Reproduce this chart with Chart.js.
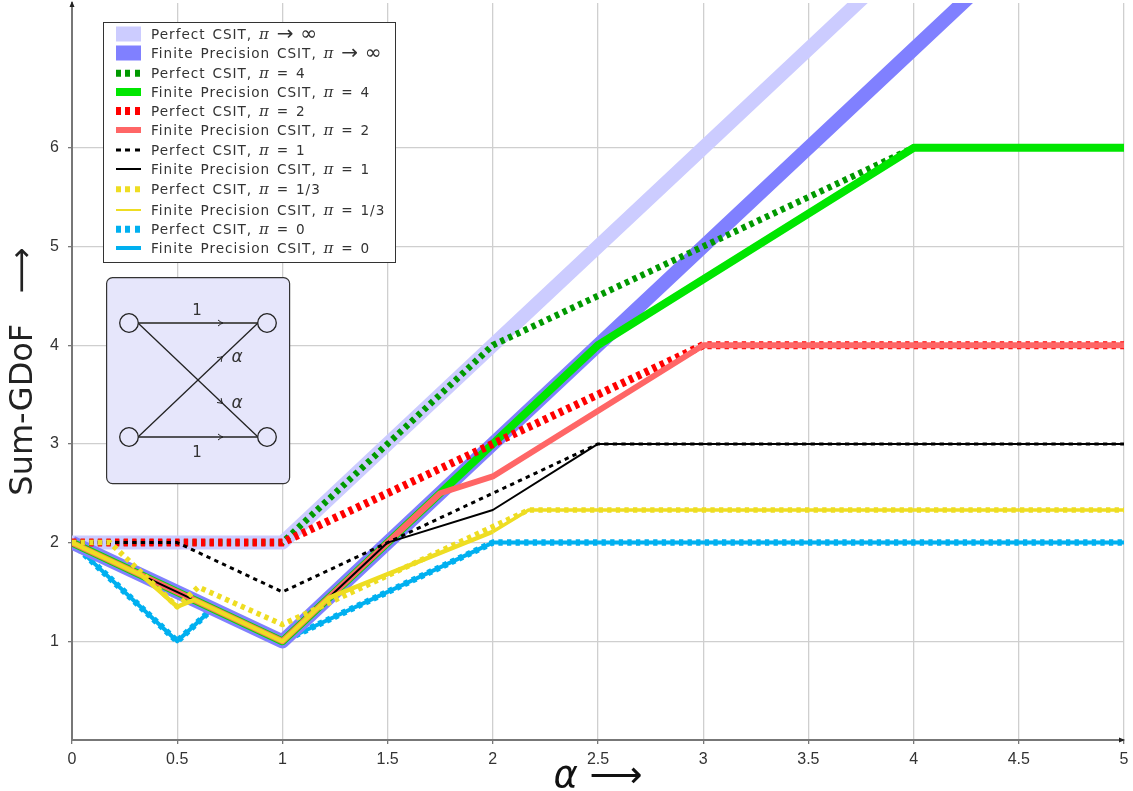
<!DOCTYPE html>
<html><head><meta charset="utf-8">
<script src="https://cdn.jsdelivr.net/npm/chart.js@4"></script>
<style>
html,body{margin:0;padding:0;background:#fff;overflow:hidden}
#wrap{position:relative;width:1133px;height:791px}
canvas{display:block}
#legend{position:absolute;left:103px;top:22px;width:291px;height:239px;border:1.3px solid #333;background:#fff;font-family:"DejaVu Sans",sans-serif;font-size:13.6px;letter-spacing:1px;word-spacing:1.5px;color:#333}
.row{position:absolute;left:0;right:0;height:19px;line-height:19px;white-space:nowrap}
.sw{position:absolute;left:12px;width:25px;top:50%;transform:translateY(-50%)}
.tx{position:absolute;left:47px;top:0}
.tx i{font-family:"DejaVu Serif","Liberation Serif",serif;font-size:15px;line-height:10px}
.tx b{font-weight:normal;font-size:20px;line-height:10px;letter-spacing:0;vertical-align:-1px}
#inset{position:absolute;left:106px;top:277px}
</style></head><body>
<div id="wrap">
<canvas id="c" width="1133" height="791"></canvas>
<div id="legend"></div>
<svg id="inset" width="185" height="208" viewBox="106 277 185 208">
<defs><path id="h" d="M-4,-3 Q-1,-0.5 1,0 Q-1,0.5 -4,3" fill="none" stroke="#222" stroke-width="1"/></defs>
<rect x="106.6" y="277.6" width="183" height="206" rx="6" fill="#e6e6fb" stroke="#333" stroke-width="1.2"/>
<g stroke="#222" stroke-width="1.3" fill="none">
<line x1="129" y1="323" x2="267" y2="323" stroke="#555" stroke-width="1.8"/>
<line x1="129" y1="437" x2="267" y2="437"/>
<line x1="138" y1="323" x2="258" y2="437"/>
<line x1="138" y1="437" x2="258" y2="323"/>
<circle cx="129" cy="323" r="9.3" fill="#e6e6fb"/><circle cx="267" cy="323" r="9.3" fill="#e6e6fb"/>
<circle cx="129" cy="437" r="9.3" fill="#e6e6fb"/><circle cx="267" cy="437" r="9.3" fill="#e6e6fb"/>
</g>
<use href="#h" transform="translate(222,323)"/><use href="#h" transform="translate(222,437)"/>
<use href="#h" transform="translate(222,357) rotate(-43.5)"/><use href="#h" transform="translate(222,403) rotate(43.5)"/>
<g font-family="DejaVu Sans,sans-serif" font-size="15" fill="#333" text-anchor="middle">
<text x="197" y="315">1</text><text x="197" y="457">1</text>
<text x="237" y="362" font-size="17" font-style="italic">α</text>
<text x="237" y="408" font-size="17" font-style="italic">α</text>
</g>
</svg>
</div>
<script>
// Axis content
const xTickValues = [0,0.5,1,1.5,2,2.5,3,3.5,4,4.5,5];
const xTickLabels = ['0','0.5','1','1.5','2','2.5','3','3.5','4','4.5','5'];
const yTickValues = [1,2,3,4,5,6];
const xTitle = 'α ⟶';
const yTitle = 'Sum-GDoF   ⟶';

// Series values: [alpha, sum-GDoF]
const perfectInf   = [[0,2],[1,2],[2,4],[3,6],[4,8]];
const finiteInf    = [[0,2],[1,1],[2,3],[3,5],[4,7],[5,9]];
const perfect4     = [[0,2],[1,2],[2,4],[4,6],[5,6]];
const finite4      = [[0,2],[1,1],[2.5,4],[4,6],[5,6]];
const perfect2     = [[0,2],[1,2],[3,4],[5,4]];
const finite2      = [[0,2],[1,1],[1.75,2.5],[2,2.67],[3,4],[5,4]];
const perfect1     = [[0,2],[0.5,2],[1,1.5],[2.5,3],[5,3]];
const finite1      = [[0,2],[1,1],[1.5,2],[2,2.33],[2.5,3],[5,3]];
const perfectThird = [[0,2],[0.18,2],[0.5,1.35],[0.6,1.55],[1,1.17],[2.17,2.33],[5,2.33]];
const finiteThird  = [[0,2],[0.33,1.67],[0.5,1.35],[0.58,1.42],[1,1],[1.22,1.44],[2,2.11],[2.17,2.33],[5,2.33]];
const perfectZero  = [[0,2],[0.5,1],[0.667,1.33],[1,1],[2,2],[5,2]];
const finiteZero   = [[0,2],[0.5,1],[0.667,1.33],[1,1],[2,2],[5,2]];

// Legend labels
const labels = ['Perfect CSIT, π → ∞','Finite Precision CSIT, π → ∞','Perfect CSIT, π = 4','Finite Precision CSIT, π = 4','Perfect CSIT, π = 2','Finite Precision CSIT, π = 2','Perfect CSIT, π = 1','Finite Precision CSIT, π = 1','Perfect CSIT, π = 1/3','Finite Precision CSIT, π = 1/3','Perfect CSIT, π = 0','Finite Precision CSIT, π = 0'];
const seriesList = [perfectInf,finiteInf,perfect4,finite4,perfect2,finite2,perfect1,finite1,perfectThird,finiteThird,perfectZero,finiteZero];

// Styles, one per series: colour, width, dashed, draw order (higher = further back)
const styles = [
 ['#ccccff',14,false,12],['#8080ff',14,false,11],
 ['#009900',6.5,true,10],['#00e600',8,false,9],
 ['#ff0000',8,true,8],['#ff6666',6,false,7],
 ['#000000',3,true,6],['#000000',2,false,5],
 ['#eedd22',5.5,true,4],['#eedd22',2,false,3],
 ['#00b0f0',6.5,true,14],['#00b0f0',4,false,13]
];
const legendRowTops = [1.5,20.5,40.5,59.5,78.5,97.5,117.5,136.5,156.5,177.5,196.5,215.5];

const datasets = seriesList.map((s,i)=>{
  const [col,w,dash,ord] = styles[i];
  return {label:labels[i],data:s.map(p=>({x:p[0],y:p[1]})),borderColor:col,borderWidth:w,
    borderDash:dash?[4.3,4.3]:[],borderCapStyle:'butt',borderJoinStyle:'round',order:ord,
    pointRadius:0,tension:0,fill:false,clip:0};
});
// the 1/3 finite trace is heavier over its lower part, as drawn in the figure
datasets[9].segment = {borderWidth: c => c.p0.parsed.x < 1.99 ? 4.4 : 3.4};

const arrows = {id:'arrows',afterDraw(ch){
  const g=ch.ctx,a=ch.chartArea;g.save();g.fillStyle='#222';
  g.beginPath();g.moveTo(a.left,a.top-2);g.lineTo(a.left-2.5,a.top+4);g.lineTo(a.left+2.5,a.top+4);g.closePath();g.fill();
  g.beginPath();g.moveTo(a.right+1,a.bottom);g.lineTo(a.right-5,a.bottom-2.5);g.lineTo(a.right-5,a.bottom+2.5);g.closePath();g.fill();
  g.restore();
}};

new Chart(document.getElementById('c'),{
  type:'line',
  data:{datasets},
  plugins:[arrows],
  options:{
    responsive:false,animation:false,devicePixelRatio:1,
    layout:{padding:{top:3,right:9,left:0,bottom:0}},
    plugins:{legend:{display:false},title:{display:false},tooltip:{enabled:false}},
    scales:{
      x:{type:'linear',min:0,max:5,
        afterBuildTicks:s=>{s.ticks=xTickValues.map(v=>({value:v}));},
        afterFit:s=>{s.height=51;s.paddingLeft=0;s.paddingRight=0;},
        grid:{color:'#cfcfcf',lineWidth:1.3,tickColor:'#777',tickLength:4},
        border:{color:'#777',width:2},
        ticks:{autoSkip:false,maxRotation:0,padding:6,color:'#333',font:{family:'"Liberation Sans",sans-serif',size:16},
          callback:v=>xTickLabels[xTickValues.indexOf(v)]},
        title:{display:true,text:xTitle,color:'#111',padding:{top:0,bottom:-5},font:{family:'"DejaVu Sans",sans-serif',size:37,style:'italic',lineHeight:1}}
      },
      y:{type:'linear',min:0,max:7.467,
        afterBuildTicks:s=>{s.ticks=yTickValues.map(v=>({value:v}));},
        afterFit:s=>{s.width=72;s.paddingTop=0;s.paddingBottom=0;},
        grid:{color:'#cfcfcf',lineWidth:1.3,tickColor:'#777',tickLength:4},
        border:{color:'#777',width:2},
        ticks:{autoSkip:false,padding:9,color:'#333',font:{family:'"Liberation Sans",sans-serif',size:16}},
        title:{display:true,text:yTitle,color:'#222',padding:{top:8,bottom:0},font:{family:'"DejaVu Sans",sans-serif',size:32,lineHeight:1}}
      }
    }
  }
});

// Legend built from the datasets
const lg=document.getElementById('legend');
datasets.forEach((d,i)=>{
  const r=document.createElement('div');r.className='row';r.style.top=legendRowTops[i]+'px';
  const sw=document.createElement('div');sw.className='sw';
  sw.style.height=(i<2?15:d.borderWidth)+'px';
  sw.style.background=d.borderDash.length?`repeating-linear-gradient(90deg,${d.borderColor} 0 5px,transparent 5px 9.5px)`:d.borderColor;
  const t=document.createElement('div');t.className='tx';
  t.innerHTML=d.label.replace('π','<i>π</i>').replace('→','<b>→</b>').replace('∞','<b>∞</b>');
  r.append(sw,t);lg.append(r);
});
</script>
</body></html>
